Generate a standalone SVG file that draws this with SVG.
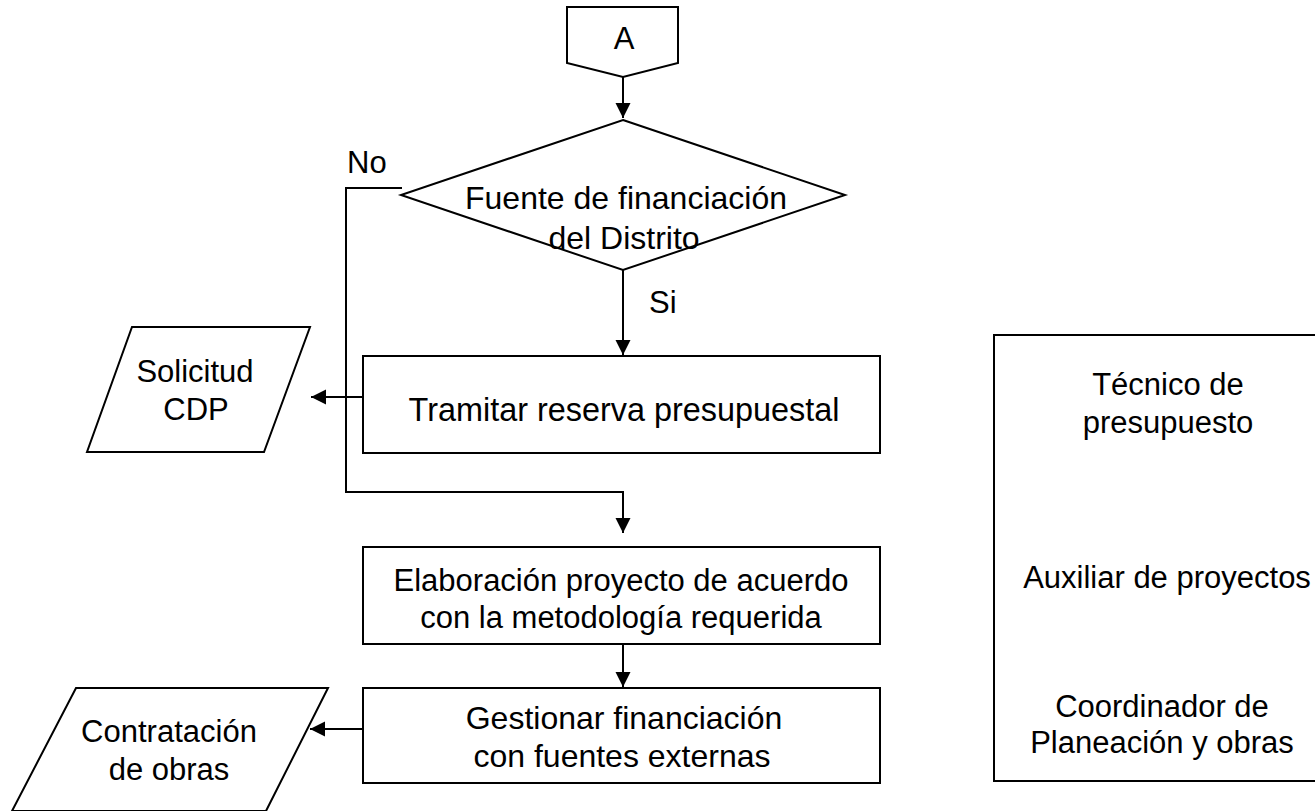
<svg xmlns="http://www.w3.org/2000/svg" width="1315" height="811" viewBox="0 0 1315 811">
<defs>
<marker id="arr" markerWidth="16" markerHeight="16" refX="15" refY="7.5" orient="auto" markerUnits="userSpaceOnUse">
<path d="M0,0 L15,7.5 L0,15 Z" fill="#000"/>
</marker>
<style>
.s{fill:#fff;stroke:#000;stroke-width:2}
.c{fill:none;stroke:#000;stroke-width:2}
text{font-family:"Liberation Sans",Arial,sans-serif;font-size:31px;fill:#000;text-anchor:middle}
.l{text-anchor:start}
.b{font-size:32px}
</style>
</defs>
<rect width="1315" height="811" fill="#fff"/>
<g id="connectors">
<path class="c" d="M623,77 V118" marker-end="url(#arr)"/>
<path class="c" d="M623,270 V355" marker-end="url(#arr)"/>
<path class="c" d="M402,188 H346 V492 H623 V533" marker-end="url(#arr)"/>
<path class="c" d="M364,397 H311" marker-end="url(#arr)"/>
<path class="c" d="M623,644 V687" marker-end="url(#arr)"/>
<path class="c" d="M364,729 H310" marker-end="url(#arr)"/>
<text class="l" x="347" y="173">No</text>
<text class="l" x="649" y="313">Si</text>
</g>
<g id="A">
<path class="s" d="M567,7 H678 V63 L623,77 L567,63 Z"/>
<text x="624" y="49">A</text>
</g>
<g id="decision">
<path class="s" d="M623,120 L845,195 L623,270 L401,195 Z"/>
<text class="b" x="626" y="209">Fuente de financiación</text>
<text class="b" x="624" y="249">del Distrito</text>
</g>
<g id="tramitar">
<rect class="s" x="363" y="356" width="517" height="97"/>
<text x="624" y="421" style="font-size:32.4px">Tramitar reserva presupuestal</text>
</g>
<g id="solicitud">
<path class="s" d="M132,327 H310 L264,452 H87 Z"/>
<text x="195" y="382">Solicitud</text>
<text x="196" y="420">CDP</text>
</g>
<g id="elaboracion">
<rect class="s" x="363" y="547" width="517" height="97"/>
<text x="621" y="591">Elaboración proyecto de acuerdo</text>
<text x="621" y="628">con la metodología requerida</text>
</g>
<g id="gestionar">
<rect class="s" x="363" y="688" width="517" height="95"/>
<text class="b" x="624" y="729">Gestionar financiación</text>
<text class="b" x="622" y="767">con fuentes externas</text>
</g>
<g id="contratacion">
<path class="s" d="M76,688 H328 L266,811 H12 Z"/>
<text x="169" y="742">Contratación</text>
<text x="169" y="780">de obras</text>
</g>
<g id="roles">
<rect class="s" x="994" y="335" width="400" height="446"/>
<text x="1168" y="395">Técnico de</text>
<text x="1168" y="433">presupuesto</text>
<text x="1167" y="588">Auxiliar de proyectos</text>
<text x="1162" y="717">Coordinador de</text>
<text x="1162" y="753">Planeación y obras</text>
</g>
</svg>
